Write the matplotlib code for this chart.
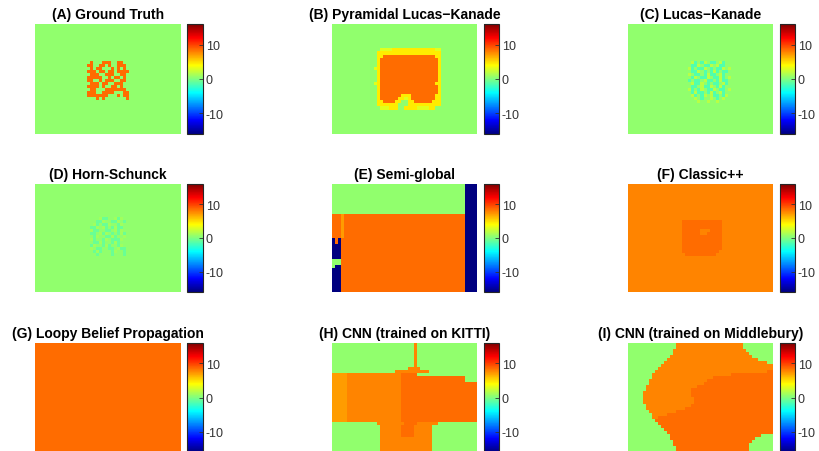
import matplotlib
matplotlib.use("Agg")
import matplotlib.pyplot as plt
import numpy as np
from matplotlib.colors import LinearSegmentedColormap

plt.rcParams["font.family"] = ["Liberation Sans", "DejaVu Sans"]
plt.rcParams["axes.unicode_minus"] = False

VMIN, VMAX = -16, 16
CBAR_TICKS = [-10, 0, 10]

# flow value behind each letter in the maps below
LEVELS = {"g": 0.5, "o": 8.5, "O": 7.8, "l": 7.0, "y": 4.6, "Y": 3.0,
          "b": -16.0, "c": -1.5, "h": 1.8, "d": -0.7, "e": 1.1}

TITLES = [
    "(A) Ground Truth", "(B) Pyramidal Lucas\u2212Kanade", "(C) Lucas\u2212Kanade",
    "(D) Horn-Schunck", "(E) Semi-global", "(F) Classic++",
    "(G) Loopy Belief Propagation", "(H) CNN (trained on KITTI)",
    "(I) CNN (trained on Middlebury)",
]

# 48 x 36 cell maps. "n: ..." repeats a row n times, "17g" = 17 cells of g
A_MAP = [
    "12: 48g",
    "17g gogggoooggoogg 17g",
    "17g ooggoogoggooog 17g",
    "17g gogoogggogogog 17g",
    "17g ooogoogoogoooo 17g",
    "17g goooggoooggoog 17g",
    "17g oooooggogoogog 17g",
    "17g ooggogoooggoog 17g",
    "17g gooogooggooogg 17g",
    "17g oooogoggoogogg 17g",
    "17g googggooooooog 17g",
    "17g oooggoooogggoo 17g",
    "17g ooooooogggogoo 17g",
    "17g gggogogggggggo 17g",
    "11: 48g",
]

B_MAP = [
    "8: 48g",
    "16g 4Y 14y 2Y 12g",
    "15g 21y 12g",
    "15g 2y 17o 2y 12g",
    "3: 15g 1y 19o 1y 12g",
    "14g 1Y 1y 19o 1y 12g",
    "4: 15g 1y 19o 1y 12g",
    "14g 1Y 1y 18o 2y 12g",
    "3: 15g 1y 19o 1y 12g",
    "15g 1y 7o 3y 8o 2y 12g",
    "15g 1y 6o 2y 1Y 1y 8o 2y 12g",
    "15g 2y 4o 2y 2g 2y 6o 3y 12g",
    "15g 7y 3g 11y 12g",
    "16g 3Y 3y 2g 4y 4Y 2y 14g",
    "8: 48g",
]

C_MAP = [
    "12: 48g",
    "20g ghcgchgccghcgg 14g",
    "20g gcchgcchghccgg 14g",
    "20g hcgcchgcgcchgh 14g",
    "20g gcchgcgchcgccg 14g",
    "20g hgccgchccghcgg 14g",
    "20g gchgcchgcchcgh 14g",
    "20g cgccghccgchccg 14g",
    "20g ghcchgcgccghcg 14g",
    "20g gccghcchgchcgg 14g",
    "20g hcgchgcchgccgh 14g",
    "20g gchccgchcghcgg 14g",
    "20g ghcgchghccgchg 14g",
    "20g gghgcgghgcghgg 14g",
    "20g ggghgghgghgggg 14g",
    "10: 48g",
]

D_MAP = [
    "11: 48g",
    "17g ggggeddggedegg 17g",
    "17g gggddeggddegdg 17g",
    "17g ggedgddeggdegg 17g",
    "17g gddegedgdeddgg 17g",
    "17g geddggddgedegg 17g",
    "17g gddgedegdgdedg 17g",
    "17g ggdeggddedggeg 17g",
    "17g gedggdegdddegg 17g",
    "17g ggddedggdedggg 17g",
    "17g gdeggdedggdegg 17g",
    "17g gegddggddgeddg 17g",
    "17g ggdedgggdeggdg 17g",
    "17g gggdggggdgggdg 17g",
    "17g gggggggggggggg 17g",
    "11: 48g",
]

E_MAP = [
    "10: 44g 4b",
    "8: 3o 1l 40o 4b",
    "2: bob 41o 4b",
    "5: 3b 41o 4b",
    "2: 3g 41o 4b",
    "gbb 41o 4b",
    "8: 3b 41o 4b",
]

F_MAP = [
    "12: 48O",
    "18O 13o 17O",
    "2: 18O 13o 17O",
    "18O 6o 3O 4o 17O",
    "18O 6o 2O 5o 17O",
    "5: 18O 13o 17O",
    "18O 12o 18O",
    "19O 10o 19O",
    "12: 48O",
]

G_MAP = [
    "36: 48o",
]

H_MAP = [
    "8: 27g 1O 20g",
    "25g 4O 19g",
    "21g 11O 16g",
    "5l 18O 5o 20g",
    "2: 5l 18O 21o 4g",
    "13: 5l 18O 25o",
    "15g 9O 4o 7O 13g",
    "4: 16g 7O 4o 6O 15g",
    "5: 16g 17O 15g",
]

I_MAP = [
    "2: 16g 22O 10g",
    "15g 24O 9g",
    "15g 25O 8g",
    "14g 27O 7g",
    "13g 30O 5g",
    "12g 34O 2g",
    "11g 37O",
    "10g 38O",
    "9g 37O 2o",
    "8g 26O 14o",
    "8g 20O 20o",
    "7g 19O 22o",
    "7g 18O 23o",
    "6g 17O 25o",
    "6g 15O 27o",
    "2: 5g 16O 27o",
    "2: 5g 17O 26o",
    "6g 15O 27o",
    "6g 13O 29o",
    "7g 9O 32o",
    "8g 5O 35o",
    "8g 2O 38o",
    "9g 39o",
    "10g 38o",
    "11g 37o",
    "12g 36o",
    "13g 35o",
    "14g 30o 4g",
    "14g 28o 6g",
    "15g 26o 7g",
    "15g 25o 8g",
    "2: 16g 24o 8g",
]

MAPS = [A_MAP, B_MAP, C_MAP, D_MAP, E_MAP, F_MAP, G_MAP, H_MAP, I_MAP]


def expand(spec_rows):
    grid = []
    for spec in spec_rows:
        n, row = spec.split(":") if ":" in spec else ("1", spec)
        cells = ""
        for tok in row.split():
            cells += tok[-1] * int(tok[:-1]) if tok[0].isdigit() else tok
        grid += [[LEVELS[ch] for ch in cells]] * int(n)
    return np.array(grid, dtype=float)


# MATLAB style jet
jet = LinearSegmentedColormap.from_list("mjet", [
    (0, (0, 0, 0.5)), (1 / 8, (0, 0, 1)), (3 / 8, (0, 1, 1)),
    (5 / 8, (1, 1, 0)), (7 / 8, (1, 0, 0)), (1, (0.5, 0, 0))], N=256)

W, H = 820, 452
COL_X = [35, 332, 628]
IMG_W = [146, 145, 145]
CB_X = [187, 484, 780]
CB_W = [16, 15, 15]
ROW_Y = [25, 185, 344]
IMG_H = [110, 108, 109]


def frac(x, y, w, h):
    return [x / W, 1 - (y + h) / H, w / W, h / H]


fig = plt.figure(figsize=(W / 100, H / 100), dpi=100)
for k, (title, spec) in enumerate(zip(TITLES, MAPS)):
    r, c = divmod(k, 3)
    ax = fig.add_axes(frac(COL_X[c], ROW_Y[r], IMG_W[c], IMG_H[r]))
    im = ax.imshow(expand(spec), cmap=jet, vmin=VMIN, vmax=VMAX,
                   aspect="auto", interpolation="nearest")
    ax.set_axis_off()
    ax.set_title(title, fontsize=10, fontweight="bold", pad=4)
    cax = fig.add_axes(frac(CB_X[c], ROW_Y[r], CB_W[c], IMG_H[r]))
    cb = fig.colorbar(im, cax=cax, ticks=CBAR_TICKS)
    cb.outline.set_edgecolor("#262626")
    cb.outline.set_linewidth(0.8)
    cax.tick_params(direction="in", length=3, width=0.6, labelsize=9,
                    colors="#333333", pad=2)

fig.savefig("out.png", dpi=100)
